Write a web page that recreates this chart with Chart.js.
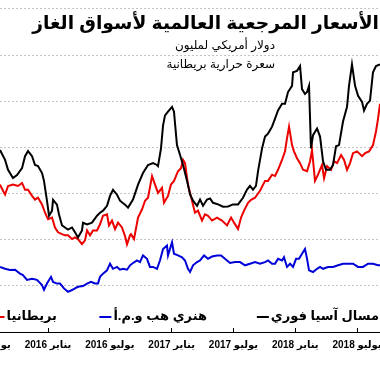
<!DOCTYPE html>
<html>
<head>
<meta charset="utf-8">
<script src="https://cdn.jsdelivr.net/npm/chart.js@4.4.0/dist/chart.umd.min.js"></script>
<style>
  body { margin: 0; background: #fff; }
  #wrap { width: 380px; height: 372px; }
  canvas { direction: rtl; }
</style>
</head>
<body>
<div id="wrap"><canvas id="myChart"></canvas></div>
<script>
// x values are months counted from January 2015 (12 = Jan 2016, 24 = Jan 2017 ...)
var tickMonths = [6, 12, 18, 24, 30, 36, 42]
var tickLabels = ['يوليو 2015', 'يناير 2016', 'يوليو 2016', 'يناير 2017', 'يوليو 2017', 'يناير 2018', 'يوليو 2018']
var gridValues = [2, 4, 6, 8, 10, 12, 14]

var titleText = 'الأسعار المرجعية العالمية لأسواق الغاز'
var subtitleLines = ['دولار أمريكي لمليون', 'سعرة حرارية بريطانية']
var seriesNames = ['بريطانيا', 'هنري هب و.م.أ', 'مسال آسيا فوري']

// Asia LNG spot (black)
var lngMonths = [7.34, 7.83, 8.12, 8.60, 8.99, 9.48, 9.77, 10.06, 10.45, 10.74, 11.03, 11.42, 11.61, 11.90, 12.10, 12.39, 12.49, 12.87, 13.07, 13.36, 13.65, 13.94, 14.33, 14.62, 14.91, 15.30, 15.40, 15.79, 16.27, 16.76, 17.05, 17.34, 17.73, 18.02, 18.31, 18.70, 18.99, 19.48, 19.77, 20.25, 20.74, 21.22, 21.71, 22.19, 22.58, 22.68, 22.97, 23.17, 23.36, 23.65, 24.04, 24.23, 24.52, 24.82, 25.11, 25.50, 25.79, 26.08, 26.47, 26.76, 27.05, 27.44, 27.73, 28.02, 28.51, 28.99, 29.48, 29.96, 30.45, 30.93, 31.32, 31.61, 31.90, 32.19, 32.39, 32.78, 33.07, 33.36, 33.75, 34.04, 34.33, 34.72, 35.01, 35.30, 35.69, 35.79, 36.17, 36.47, 36.66, 36.95, 37.15, 37.34, 37.53, 37.73, 38.12, 38.41, 38.70, 38.99, 39.38, 39.67, 39.96, 40.25, 40.64, 41.03, 41.22, 41.51, 41.81, 42.10, 42.49, 42.68, 42.97, 43.26, 43.55, 43.84, 44.23]
var lngPrices = [7.89, 7.46, 7.03, 6.67, 6.80, 7.10, 7.62, 7.84, 7.62, 7.24, 7.19, 6.89, 6.55, 5.69, 5.04, 5.26, 5.73, 5.52, 5.09, 4.62, 4.53, 4.44, 4.53, 4.32, 4.10, 4.40, 4.74, 4.66, 4.74, 5.04, 5.17, 5.26, 5.47, 5.90, 6.16, 5.95, 5.69, 5.52, 5.39, 5.74, 6.39, 6.89, 7.24, 7.32, 7.24, 7.19, 7.96, 8.96, 9.39, 9.55, 9.76, 9.55, 8.10, 7.67, 7.24, 6.55, 5.96, 5.69, 5.47, 5.74, 5.47, 5.74, 5.79, 5.60, 5.53, 5.43, 5.44, 5.53, 5.53, 5.82, 6.17, 6.33, 6.17, 6.33, 6.97, 7.96, 8.47, 8.60, 8.90, 9.25, 9.60, 9.89, 9.89, 10.40, 10.67, 11.26, 11.32, 11.53, 10.53, 10.32, 10.40, 10.67, 7.96, 8.53, 8.82, 8.47, 7.40, 7.03, 7.03, 7.24, 8.05, 8.10, 9.12, 9.76, 10.67, 11.60, 10.67, 10.24, 9.97, 9.60, 9.89, 10.03, 11.26, 11.53, 11.60]

// UK NBP (red)
var ukMonths = [7.34, 7.63, 7.83, 8.12, 8.60, 9.09, 9.48, 9.77, 10.06, 10.45, 10.74, 11.03, 11.42, 11.71, 12.00, 12.39, 12.68, 12.97, 13.36, 13.65, 13.94, 14.33, 14.62, 14.91, 15.30, 15.59, 15.79, 16.08, 16.37, 16.76, 17.05, 17.34, 17.73, 17.92, 18.21, 18.51, 18.80, 19.18, 19.48, 19.67, 19.96, 20.06, 20.35, 20.74, 21.13, 21.42, 21.71, 22.10, 22.39, 22.68, 23.07, 23.26, 23.65, 23.94, 24.23, 24.62, 24.91, 25.11, 25.30, 25.59, 25.98, 26.27, 26.56, 26.95, 27.24, 27.53, 27.92, 28.41, 28.89, 29.38, 29.77, 30.06, 30.45, 30.74, 31.03, 31.42, 31.71, 32.10, 32.58, 33.07, 33.36, 33.75, 34.04, 34.33, 34.72, 35.01, 35.20, 35.40, 35.69, 35.88, 36.17, 36.47, 36.76, 37.15, 37.44, 37.63, 37.92, 38.21, 38.60, 38.80, 39.09, 39.48, 39.77, 40.06, 40.45, 40.74, 41.03, 41.32, 41.61, 42.00, 42.49, 42.78, 43.17, 43.55, 43.84, 44.04, 44.23]
var ukPrices = [6.39, 6.12, 5.96, 6.33, 6.39, 6.33, 6.46, 6.17, 6.17, 5.90, 5.74, 5.82, 5.53, 5.17, 4.89, 4.96, 4.53, 4.32, 4.24, 4.19, 4.19, 4.03, 4.10, 4.03, 3.81, 3.97, 4.40, 4.19, 4.40, 4.40, 4.67, 5.04, 5.10, 4.62, 4.83, 4.46, 4.74, 4.53, 4.15, 3.80, 4.19, 4.24, 4.03, 4.96, 5.32, 5.69, 5.82, 6.76, 6.39, 6.03, 6.25, 5.60, 5.90, 6.39, 6.55, 6.97, 7.10, 7.46, 7.32, 6.39, 5.69, 5.17, 5.26, 4.83, 5.10, 5.04, 4.83, 4.96, 4.83, 4.62, 4.96, 4.74, 4.46, 4.96, 5.26, 5.60, 5.73, 5.82, 6.12, 6.55, 6.55, 6.82, 6.76, 7.03, 7.46, 7.83, 8.39, 8.90, 8.10, 7.83, 7.53, 7.32, 7.03, 6.97, 7.40, 7.89, 6.55, 6.82, 7.24, 6.67, 7.19, 7.03, 7.40, 7.32, 7.67, 7.46, 7.03, 7.32, 7.75, 7.83, 7.62, 7.75, 7.83, 8.10, 8.69, 9.25, 9.89]

// Henry Hub USA (blue)
var hubMonths = [7.34, 7.83, 8.31, 8.80, 9.28, 9.57, 9.96, 10.45, 10.93, 11.42, 11.61, 11.90, 12.29, 12.49, 12.87, 13.17, 13.55, 13.94, 14.33, 14.62, 14.91, 15.40, 15.79, 16.17, 16.56, 16.85, 17.05, 17.34, 17.73, 18.02, 18.31, 18.70, 18.99, 19.28, 19.67, 19.96, 20.16, 20.64, 20.93, 21.22, 21.61, 21.90, 22.19, 22.58, 22.87, 23.17, 23.55, 23.65, 24.04, 24.23, 24.62, 25.01, 25.30, 25.59, 25.79, 26.08, 26.47, 26.76, 27.15, 27.53, 27.92, 28.41, 28.80, 29.18, 29.67, 30.16, 30.64, 31.13, 31.61, 32.10, 32.58, 33.07, 33.36, 33.75, 34.04, 34.33, 34.72, 34.91, 35.20, 35.50, 35.79, 36.08, 36.37, 36.66, 36.95, 37.15, 37.34, 37.73, 38.12, 38.41, 38.70, 39.18, 39.67, 40.16, 40.64, 41.13, 41.61, 42.10, 42.58, 43.07, 43.55, 44.04, 44.23]
var hubPrices = [2.82, 2.74, 2.69, 2.70, 2.53, 2.47, 2.26, 2.31, 2.26, 2.03, 1.83, 2.10, 2.39, 2.17, 2.10, 2.10, 1.89, 1.74, 1.82, 1.89, 1.96, 1.99, 2.10, 2.17, 2.10, 2.10, 2.39, 2.53, 2.67, 2.96, 2.74, 2.82, 2.70, 2.74, 2.70, 2.89, 2.96, 3.10, 3.03, 3.32, 3.17, 2.82, 2.82, 2.74, 3.10, 3.60, 3.75, 3.32, 3.89, 3.39, 3.32, 3.24, 3.10, 2.74, 2.60, 2.89, 3.03, 3.10, 3.32, 3.17, 3.27, 3.32, 3.32, 3.17, 2.99, 3.03, 3.03, 2.89, 2.96, 3.03, 2.96, 3.03, 3.10, 2.96, 2.96, 3.17, 3.10, 3.24, 2.82, 2.96, 2.82, 3.17, 3.17, 3.39, 3.60, 3.17, 2.67, 2.60, 2.74, 2.82, 2.74, 2.82, 2.82, 2.89, 2.96, 2.96, 2.96, 2.82, 2.82, 2.96, 2.96, 2.89, 2.89]

var labelFont = '"Liberation Sans", "DejaVu Sans", sans-serif'

function toPoints(months, prices) {
  var points = []
  for (var i = 0; i < months.length; i++) {
    points.push({ x: months[i], y: prices[i] })
  }
  return points
}

// title, subtitle and legend sit inside the plot area, so draw them by hand
var overlayText = {
  id: 'overlayText',
  afterDraw: function (chart) {
    var ctx = chart.ctx
    ctx.save()
    ctx.direction = 'rtl'
    ctx.fillStyle = '#000'
    ctx.textAlign = 'right'
    ctx.textBaseline = 'middle'

    ctx.font = 'bold 18.7px ' + labelFont
    ctx.fillText(titleText, 379, 24)

    ctx.font = '12px ' + labelFont
    ctx.fillText(subtitleLines[0], 275, 46)
    ctx.fillText(subtitleLines[1], 275, 65)

    // legend: line sample to the left of each label
    var legendRight = [57, 207, 379]
    var legendY = 316
    ctx.font = 'bold 13px ' + labelFont
    var sets = [chart.data.datasets[1], chart.data.datasets[2], chart.data.datasets[0]]
    for (var i = 0; i < seriesNames.length; i++) {
      var w = ctx.measureText(seriesNames[i]).width
      var left = legendRight[i] - w
      ctx.fillText(seriesNames[i], legendRight[i], legendY)
      ctx.beginPath()
      ctx.strokeStyle = sets[i].borderColor
      ctx.lineWidth = 2
      ctx.moveTo(left - 14, legendY + 1)
      ctx.lineTo(left - 2, legendY + 1)
      ctx.stroke()
    }
    ctx.restore()
  }
}

var ctx = document.getElementById('myChart').getContext('2d')
var myChart = new Chart(ctx, {
  type: 'line',
  data: {
    datasets: [{
        label: seriesNames[2],
        data: toPoints(lngMonths, lngPrices),
        borderColor: '#000000',
        borderWidth: 2,
        pointRadius: 0,
        tension: 0
    },
    {
        label: seriesNames[0],
        data: toPoints(ukMonths, ukPrices),
        borderColor: '#ec0000',
        borderWidth: 2,
        pointRadius: 0,
        tension: 0
    },
    {
        label: seriesNames[1],
        data: toPoints(hubMonths, hubPrices),
        borderColor: '#0000d8',
        borderWidth: 2,
        pointRadius: 0,
        tension: 0
    }]
  },
  options: {
    responsive: true,
    maintainAspectRatio: false,
    animation: false,
    layout: { autoPadding: false, padding: { left: 0, right: 0, top: 0, bottom: 10 } },
    plugins: {
      legend: { display: false },
      tooltip: { enabled: false }
    },
    scales: {
      x: {
        type: 'linear',
        min: 7.34,
        max: 44.23,
        afterBuildTicks: function (axis) {
          axis.ticks = tickMonths.map(function (m) { return { value: m } })
        },
        afterFit: function (axis) {
          // labels may run off the edges, the plot keeps the full width
          axis.paddingLeft = 0
          axis.paddingRight = 0
        },
        ticks: {
          autoSkip: false,
          maxRotation: 0,
          padding: 11,
          color: '#000',
          font: { family: labelFont, size: 10, weight: 'bold' },
          callback: function (value, index) { return tickLabels[index] }
        },
        grid: { drawOnChartArea: false, tickLength: -4, color: '#000', lineWidth: 1 },
        border: { display: true, color: '#000', width: 1 }
      },
      y: {
        display: true,
        min: 0,
        max: 14.39,
        afterBuildTicks: function (axis) {
          axis.ticks = gridValues.map(function (v) { return { value: v } })
        },
        afterFit: function (axis) {
          axis.width = 0
        },
        ticks: { display: false },
        grid: { color: '#c4c4c4', lineWidth: 1, drawTicks: false },
        border: { display: false, dash: [2, 2] }
      }
    }
  },
  plugins: [overlayText]
})
</script>
</body>
</html>
